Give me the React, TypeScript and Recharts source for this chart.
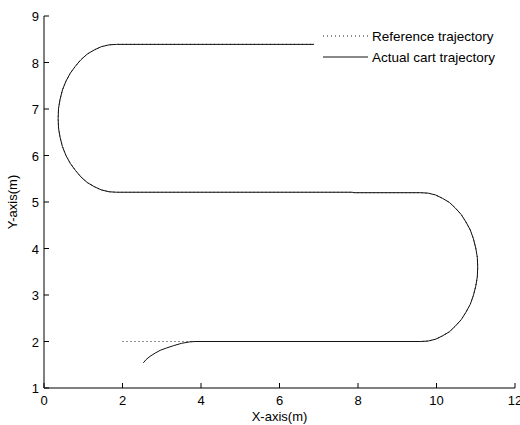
import React from 'react';
import { LineChart, Line, XAxis, YAxis } from 'recharts';

// Tick labels
const xTicks = [0, 2, 4, 6, 8, 10, 12];
const yTicks = [1, 2, 3, 4, 5, 6, 7, 8, 9];

// Actual cart trajectory (x, y in metres)
const actualStart = [
  { x: 2.53, y: 1.54 },
  { x: 2.6, y: 1.61 },
  { x: 2.7, y: 1.68 },
  { x: 2.83, y: 1.75 },
  { x: 2.96, y: 1.81 },
  { x: 3.12, y: 1.86 },
  { x: 3.3, y: 1.91 },
  { x: 3.5, y: 1.96 },
  { x: 3.7, y: 1.99 },
  { x: 3.85, y: 2.0 },
];
const bottomLineEnd = [{ x: 9.6, y: 2.0 }];
const rightArc = [
  { x: 9.79, y: 2.01 },
  { x: 9.98, y: 2.05 },
  { x: 10.15, y: 2.12 },
  { x: 10.33, y: 2.21 },
  { x: 10.48, y: 2.33 },
  { x: 10.63, y: 2.47 },
  { x: 10.75, y: 2.63 },
  { x: 10.86, y: 2.8 },
  { x: 10.94, y: 2.99 },
  { x: 11.0, y: 3.19 },
  { x: 11.04, y: 3.39 },
  { x: 11.05, y: 3.6 },
  { x: 11.04, y: 3.81 },
  { x: 11.0, y: 4.01 },
  { x: 10.94, y: 4.21 },
  { x: 10.86, y: 4.4 },
  { x: 10.75, y: 4.57 },
  { x: 10.63, y: 4.73 },
  { x: 10.48, y: 4.87 },
  { x: 10.33, y: 4.99 },
  { x: 10.15, y: 5.08 },
  { x: 9.98, y: 5.15 },
  { x: 9.79, y: 5.19 },
  { x: 9.6, y: 5.2 },
];
const middleLine = [
  { x: 7.9, y: 5.2 },
  { x: 7.85, y: 5.21 },
  { x: 1.85, y: 5.21 },
];
const leftArc = [
  { x: 1.66, y: 5.22 },
  { x: 1.46, y: 5.26 },
  { x: 1.28, y: 5.33 },
  { x: 1.1, y: 5.42 },
  { x: 0.94, y: 5.54 },
  { x: 0.8, y: 5.68 },
  { x: 0.67, y: 5.83 },
  { x: 0.56, y: 6.0 },
  { x: 0.47, y: 6.19 },
  { x: 0.41, y: 6.39 },
  { x: 0.37, y: 6.59 },
  { x: 0.36, y: 6.8 },
  { x: 0.37, y: 7.01 },
  { x: 0.41, y: 7.21 },
  { x: 0.47, y: 7.41 },
  { x: 0.56, y: 7.6 },
  { x: 0.67, y: 7.77 },
  { x: 0.8, y: 7.92 },
  { x: 0.94, y: 8.06 },
  { x: 1.1, y: 8.18 },
  { x: 1.28, y: 8.27 },
  { x: 1.46, y: 8.34 },
  { x: 1.66, y: 8.38 },
  { x: 1.85, y: 8.39 },
];
const topLine = [{ x: 6.88, y: 8.39 }];

// Reference trajectory: straight start segment, then it follows the same path
const referenceStart = [{ x: 2.0, y: 2.0 }];

const actualData = [...actualStart, ...bottomLineEnd, ...rightArc, ...middleLine, ...leftArc, ...topLine];
const referenceData = [...referenceStart, ...actualStart.slice(-1), ...bottomLineEnd, ...rightArc, ...middleLine, ...leftArc, ...topLine];

const FONT = 'Liberation Sans, Arial, sans-serif';
const INK = '#000';

const BottomTick = (p: any) => (
  <g>
    <line x1={p.x} x2={p.x} y1={p.y} y2={p.y - 5} stroke={INK} />
    <text x={p.x} y={p.y + 17} textAnchor="middle" fontSize={13} fontFamily={FONT} fill="#000">
      {p.payload.value}
    </text>
  </g>
);
const LeftTick = (p: any) => (
  <g>
    <line x1={p.x} x2={p.x + 5} y1={p.y} y2={p.y} stroke={INK} />
    <text x={p.x - 5} y={p.y + 5} textAnchor="end" fontSize={13} fontFamily={FONT} fill="#000">
      {p.payload.value}
    </text>
  </g>
);
const TopTick = (p: any) => <line x1={p.x} x2={p.x} y1={p.y} y2={p.y + 5} stroke={INK} />;
const RightTick = (p: any) => <line x1={p.x} x2={p.x - 5} y1={p.y} y2={p.y} stroke={INK} />;

const YLabel = (props: any) => {
  const vb = props.viewBox || {};
  const cy = (vb.y || 0) + (vb.height || 0) / 2;
  return (
    <text x={12} y={cy} transform={`rotate(-90 12 ${cy})`} textAnchor="middle" dominantBaseline="central" fontSize={13} fontFamily={FONT} fill="#000">
      Y-axis(m)
    </text>
  );
};
const XLabel = (props: any) => {
  const vb = props.viewBox || {};
  const cx = (vb.x || 0) + (vb.width || 0) / 2;
  return (
    <text x={cx} y={421} textAnchor="middle" fontSize={13} fontFamily={FONT} fill="#000">
      X-axis(m)
    </text>
  );
};

export default function App() {
  return (
    <div style={{ position: 'absolute', left: 0, top: 0, width: 520, height: 425, background: '#fff', overflow: 'hidden' }}>
      <LineChart width={520} height={425} margin={{ top: 16, right: 5, bottom: 0, left: 0 }}>
        <XAxis
          xAxisId="b"
          type="number"
          dataKey="x"
          domain={[0, 12]}
          ticks={xTicks}
          allowDataOverflow
          orientation="bottom"
          height={37}
          tickSize={0}
          tickMargin={0}
          tickLine={false}
          axisLine={{ stroke: INK }}
          tick={<BottomTick />}
          interval={0}
          label={<XLabel />}
        />
        <XAxis
          xAxisId="t"
          type="number"
          dataKey="x"
          domain={[0, 12]}
          ticks={xTicks}
          allowDataOverflow
          orientation="top"
          height={0}
          tickSize={0}
          tickMargin={0}
          tickLine={false}
          axisLine={{ stroke: INK }}
          tick={<TopTick />}
          interval={0}
        />
        <YAxis
          yAxisId="l"
          type="number"
          dataKey="y"
          domain={[1, 9]}
          ticks={yTicks}
          allowDataOverflow
          orientation="left"
          width={44}
          tickSize={0}
          tickMargin={0}
          tickLine={false}
          axisLine={{ stroke: INK }}
          tick={<LeftTick />}
          interval={0}
          label={<YLabel />}
        />
        <YAxis
          yAxisId="r"
          type="number"
          dataKey="y"
          domain={[1, 9]}
          ticks={yTicks}
          allowDataOverflow
          orientation="right"
          width={0}
          tickSize={0}
          tickMargin={0}
          tickLine={false}
          axisLine={{ stroke: INK }}
          tick={<RightTick />}
          interval={0}
        />
        <Line
          xAxisId="b"
          yAxisId="l"
          data={referenceData}
          dataKey="y"
          type="linear"
          stroke="#222"
          strokeWidth={1}
          strokeDasharray="1 3"
          dot={false}
          isAnimationActive={false}
        />
        <Line
          xAxisId="b"
          yAxisId="l"
          data={actualData}
          dataKey="y"
          type="linear"
          stroke="#111"
          strokeWidth={1}
          dot={false}
          isAnimationActive={false}
        />
      </LineChart>
      <div style={{ position: 'absolute', left: 318, top: 26, width: 195, height: 40 }}>
        <svg width={195} height={40}>
          <line x1={5} x2={50} y1={10} y2={10} stroke="#222" strokeDasharray="1 3" />
          <text x={54} y={14.5} fontSize={13.5} fontFamily={FONT} fill="#000">Reference trajectory</text>
          <line x1={5} x2={50} y1={31} y2={31} stroke="#111" />
          <text x={54} y={35.5} fontSize={13.5} fontFamily={FONT} fill="#000">Actual cart trajectory</text>
        </svg>
      </div>
    </div>
  );
}
